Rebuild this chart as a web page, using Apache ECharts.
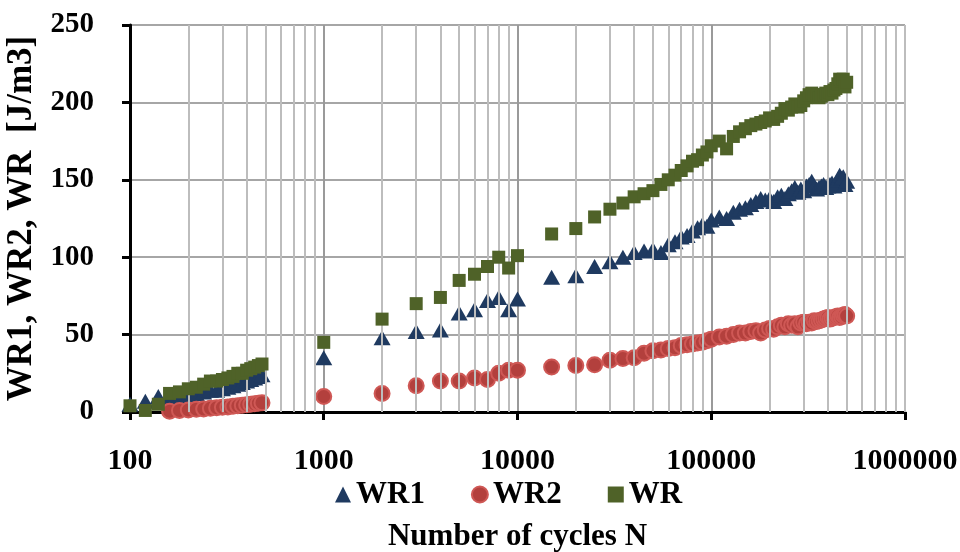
<!DOCTYPE html>
<html>
<head>
    <meta charset="utf-8">
    <script src="https://cdn.jsdelivr.net/npm/echarts@6/dist/echarts.min.js"></script>
</head>
<body style="margin:0">
<div id="main" style="width: 960px;height:552px;"></div>
<script type="text/javascript">
    // number of cycles N (x values)
    var cycles = [100, 120, 140, 160, 180, 200, 220, 240, 260, 280, 300, 320, 340, 360, 380, 400, 420, 440, 460, 480,
        1000, 2000, 3000, 4000, 5000, 6000, 7000, 8000, 9000, 10000,
        15000, 20000, 25000, 30000, 35000, 40000, 45000, 50000, 55000, 60000, 65000, 70000, 75000, 80000, 85000, 90000, 95000, 100000,
        110000, 120000, 130000, 140000, 150000, 160000, 170000, 180000, 190000, 200000,
        210000, 220000, 230000, 240000, 250000, 260000, 270000, 280000, 290000, 300000,
        310000, 320000, 330000, 340000, 350000, 360000, 370000, 380000, 390000, 400000,
        410000, 420000, 430000, 440000, 450000, 460000, 470000, 480000, 490000, 500000];

    var wr1 = [5, 7, 10, 9, 10, 11, 12, 13, 14, 14, 15, 16, 17, 18, 19, 20, 21, 22, 23, 24,
        35, 48, 52, 53, 64, 66, 72, 74, 66, 73,
        87, 88, 94, 97, 100, 103, 104, 105, 103, 108, 110, 113, 114, 117, 119, 121, 120, 124,
        126, 125, 129, 131, 132, 134, 136, 138, 137, 138,
        136, 139, 140, 138, 141, 143, 145, 142, 144, 143,
        146, 147, 149, 146, 144, 145, 146, 147, 145, 146,
        147, 148, 146, 148, 150, 153, 151, 152, 147, 149];

    var wr2 = [null, null, null, 0.5, 1, 1.3, 1.8, 2, 2.4, 2.8, 3, 3.3, 3.7, 4, 4.3, 4.7, 5, 5.3, 5.7, 6,
        10, 12, 17, 20, 20, 22, 21, 25, 27, 27,
        29, 30, 30.5, 33.5, 34.5, 35, 38, 39.5, 40, 41, 41.5, 43, 43.5, 44, 44.5, 45, 46, 47,
        48.5, 49, 50, 51, 51, 52, 52.5, 51, 53, 54,
        53.5, 55, 56, 55, 57, 56, 57, 55, 57.5, 58,
        57, 58, 57.5, 59, 58.5, 59, 59.5, 60, 60.5, 61,
        60, 60.5, 61, 61.5, 62, 61, 61.5, 62.5, 63, 62];

    var wr = [4, 1, 5, 12, 13, 15, 16, 18, 20, 20, 21, 22, 23, 25, 25, 27, 28, 29, 30, 31,
        45, 60, 70, 74, 85, 89, 94, 100, 93, 101,
        115, 118.5, 126, 131, 135, 139, 141, 143, 147, 150, 153, 156, 159, 162, 163, 166, 168, 172,
        175, 170, 178, 181, 183, 185, 186, 187, 188, 190,
        189, 191, 193, 196, 195, 197, 199, 197, 198, 201,
        203, 205, 206, 205, 204, 203, 204, 205, 206, 205,
        207, 206, 208, 209, 212, 215, 214, 215, 210, 213];

    var minorGrid = [200, 300, 400, 500, 600, 700, 800, 900,
        2000, 3000, 4000, 5000, 6000, 7000, 8000, 9000,
        20000, 30000, 40000, 50000, 60000, 70000, 80000, 90000,
        200000, 300000, 400000, 500000, 600000, 700000, 800000, 900000, 1000000];

    function pairs(vals) {
        var out = [];
        for (var i = 0; i < cycles.length; i++) {
            if (vals[i] != null) out.push([cycles[i], vals[i]]);
        }
        return out;
    }

    var font = 'Liberation Serif';
    var myChart = echarts.init(document.getElementById('main'));

    var option = {
        animation: false,
        textStyle: { fontFamily: font },
        grid: { left: 130, right: 55, top: 25, bottom: 140, containLabel: false, outerBoundsMode: 'none' },
        legend: {
            top: 474,
            left: 330,
            itemGap: 46,
            itemWidth: 16,
            itemHeight: 16,
            textStyle: { fontFamily: font, fontWeight: 'bold', fontSize: 31, color: '#000' },
            data: [
                { name: 'WR1', icon: 'triangle' },
                { name: 'WR2', icon: 'circle' },
                { name: 'WR', icon: 'rect' }
            ]
        },
        xAxis: {
            type: 'log',
            logBase: 10,
            min: 100,
            max: 1000000,
            name: 'Number of cycles N',
            nameLocation: 'middle',
            nameGap: 109,
            nameTextStyle: { fontFamily: font, fontWeight: 'bold', fontSize: 31, color: '#000' },
            axisLine: { lineStyle: { color: '#000', width: 3 } },
            axisTick: { show: true, length: 8, lineStyle: { color: '#000', width: 3 } },
            axisLabel: {
                margin: 34, fontFamily: font, fontWeight: 'bold', fontSize: 30, color: '#000',
                formatter: function (v) { return String(Math.round(v)); }
            },
            splitLine: { show: true, lineStyle: { color: '#9a9a9a', width: 2 } }
        },
        yAxis: {
            type: 'value',
            min: 0,
            max: 250,
            interval: 50,
            name: 'WR1, WR2, WR  [J/m3]',
            nameLocation: 'middle',
            nameGap: 85,
            nameTextStyle: { fontFamily: font, fontWeight: 'bold', fontSize: 35, color: '#000' },
            axisLine: { show: true, lineStyle: { color: '#000', width: 3 } },
            axisTick: { show: true, length: 8, lineStyle: { color: '#000', width: 3 } },
            axisLabel: { margin: 36, fontFamily: font, fontWeight: 'bold', fontSize: 29, color: '#000' },
            splitLine: { show: true, lineStyle: { color: '#a6a6a6', width: 2 } }
        },
        series: [
            {
                name: 'grid',
                type: 'scatter',
                data: [],
                z: 1,
                silent: true,
                markLine: {
                    silent: true,
                    symbol: 'none',
                    label: { show: false },
                    lineStyle: { color: '#bdbdbd', width: 2, type: 'solid' },
                    data: minorGrid.map(function (v) { return { xAxis: v }; })
                }
            },
            {
                name: 'WR1',
                type: 'scatter',
                symbol: 'triangle',
                symbolSize: [17, 15],
                itemStyle: { color: '#1f3a60', opacity: 1 },
                data: pairs(wr1),
                z: 3
            },
            {
                name: 'WR2',
                type: 'scatter',
                symbol: 'circle',
                symbolSize: 15,
                itemStyle: { color: '#b3403d', borderColor: '#cf5855', borderWidth: 2, opacity: 1 },
                data: pairs(wr2),
                z: 4
            },
            {
                name: 'WR',
                type: 'scatter',
                symbol: 'rect',
                symbolSize: 13,
                itemStyle: { color: '#4f6228', opacity: 1 },
                data: pairs(wr),
                z: 5
            }
        ]
    };

    myChart.setOption(option);
</script>
</body>
</html>
